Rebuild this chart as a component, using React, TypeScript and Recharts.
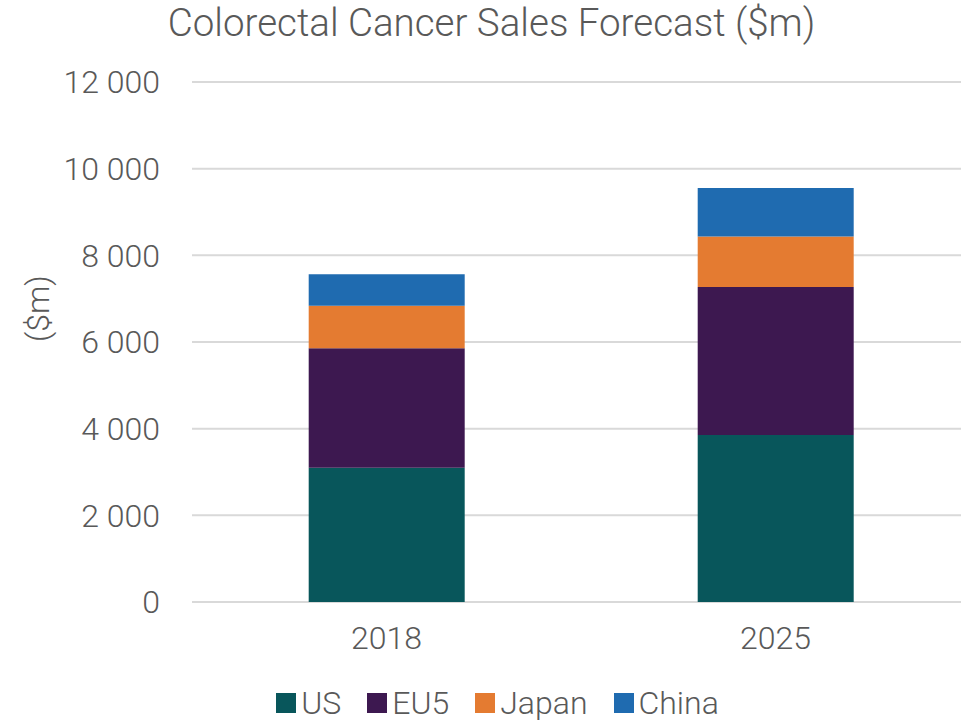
import React from "react";
import { Bar, BarChart, CartesianGrid, XAxis, YAxis } from "recharts";

const years = ["2018", "2025"];
const us = [3100, 3855];
const eu5 = [2755, 3415];
const japan = [980, 1165];
const china = [730, 1120];
const yTicks = [0, 2000, 4000, 6000, 8000, 10000, 12000];

const series = [
  { key: "US", color: "#08565b" },
  { key: "EU5", color: "#3d1850" },
  { key: "Japan", color: "#e47b31" },
  { key: "China", color: "#1f6bb0" },
];

const data = years.map((year, i) => ({
  year,
  US: us[i],
  EU5: eu5[i],
  Japan: japan[i],
  China: china[i],
}));

const FONT = "Roboto, 'Open Sans', sans-serif";
const TEXT = "#595959";

const fmt = (v: number) => String(v).replace(/\B(?=(\d{3})+(?!\d))/g, " ");

function LegendRow() {
  return (
    <div
      style={{
        position: "absolute",
        top: 683,
        left: 0,
        width: 961,
        display: "flex",
        justifyContent: "center",
        gap: 26,
        fontFamily: FONT,
        fontWeight: 300,
        fontSize: 32,
        lineHeight: "40px",
        color: TEXT,
        paddingLeft: 34,
        boxSizing: "border-box",
      }}
    >
      {series.map((s) => (
        <div key={s.key} style={{ display: "flex", alignItems: "center" }}>
          <span
            style={{
              width: 20,
              height: 20,
              background: s.color,
              display: "inline-block",
              marginRight: 5,
            }}
          />
          <span>{s.key}</span>
        </div>
      ))}
    </div>
  );
}

export default function App() {
  return (
    <div
      style={{
        position: "absolute",
        top: 0,
        left: 0,
        width: 961,
        height: 724,
        overflow: "hidden",
        background: "#fff",
      }}
    >
      <div
        style={{
          position: "absolute",
          top: 0,
          left: 0,
          width: 961,
          textAlign: "center",
          fontFamily: FONT,
          fontWeight: 300,
          fontSize: 38.5,
          color: TEXT,
          lineHeight: "46px",
          paddingLeft: 22,
          boxSizing: "border-box",
        }}
      >
        Colorectal Cancer Sales Forecast ($m)
      </div>
      <BarChart
        width={970}
        height={724}
        data={data}
        margin={{ top: 82, right: 0, bottom: 92, left: 0 }}
        barCategoryGap="30%"
      >
        <CartesianGrid vertical={false} stroke="#d9d9d9" strokeWidth={2} />
        <XAxis
          dataKey="year"
          axisLine={false}
          tickLine={false}
          tickSize={0}
          tickMargin={24}
          tick={{ fill: TEXT, fontSize: 32, fontFamily: FONT, fontWeight: 300 }}
        />
        <YAxis
          width={192}
          domain={[0, 12000]}
          ticks={yTicks}
          tickFormatter={fmt}
          axisLine={false}
          tickLine={false}
          tickSize={0}
          tickMargin={32}
          tick={{ fill: TEXT, fontSize: 32, fontFamily: FONT, fontWeight: 300 }}
          label={{
            value: "($m)",
            angle: -90,
            position: "insideLeft",
            dx: 33,
            fill: TEXT,
            fontSize: 32,
            fontFamily: FONT,
            fontWeight: 300,
          }}
        />
        {series.map((s) => (
          <Bar
            key={s.key}
            dataKey={s.key}
            stackId="a"
            fill={s.color}
            isAnimationActive={false}
          />
        ))}
      </BarChart>
      <LegendRow />
    </div>
  );
}
